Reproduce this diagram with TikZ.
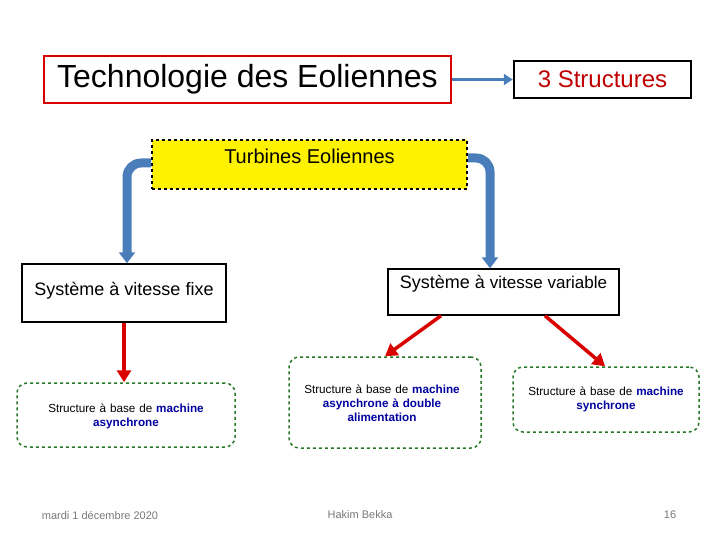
\documentclass[tikz,border=0pt]{standalone}
\usepackage{fontspec}
\setmainfont{Liberation Sans}
\usetikzlibrary{arrows.meta}
\definecolor{bl}{RGB}{74,126,187}
\definecolor{dred}{RGB}{192,0,0}
\definecolor{navy}{RGB}{0,0,160}
\definecolor{grn}{RGB}{40,120,40}
\definecolor{gry}{RGB}{120,120,120}
\begin{document}
\begin{tikzpicture}[x=1pt,y=-1pt,
  sq/.style={draw,line width=2.5pt,inner sep=0pt},
  grbox/.style={draw=grn,dashed,line width=1.5pt,rounded corners=10pt,inner sep=0pt},
  bigarrow/.style={bl,line width=9pt,rounded corners=14pt,-{Triangle[length=11pt,width=16pt]}},
  redarrow/.style={red!85!black,line width=3.5pt,-{Triangle[length=12pt,width=14pt]}},
  small/.style={font=\fontsize{11.7}{14}\selectfont,align=center,text width=190pt},
  foot/.style={gry,font=\fontsize{11}{13}\selectfont}]
\useasboundingbox (0,0) rectangle (720,540);
\node[sq,draw=red!85!black,minimum width=407pt,minimum height=47pt] (t) at (247.5,79.5) {\fontsize{32}{36}\selectfont Technologie des Eoliennes};
\node[sq,minimum width=177pt,minimum height=37pt] (s) at (602.5,79.5) {\fontsize{24}{28}\selectfont\color{dred}3 Structures};
\draw[bl,line width=3pt,-{Triangle[length=9pt,width=11pt]}] (t.east) -- (s.west);
\node[draw,dashed,line width=2pt,fill=yellow,minimum width=315pt,minimum height=49pt] (tu) at (309.5,164.5) {};
\node at (309.5,156) {\fontsize{20}{24}\selectfont Turbines Eoliennes};
\node[draw,line width=1.5pt,minimum width=204pt,minimum height=58pt] (f) at (124,293) {};
\node at (124,291) {\fontsize{18}{22}\selectfont Système à vitesse fixe};
\node[draw,line width=1.5pt,minimum width=231pt,minimum height=46pt] (v) at (503.5,292) {};
\node at (503.5,284) {\fontsize{18}{22}\selectfont Système à {\fontsize{17}{22}\selectfont vitesse variable}};
\draw[bigarrow] (tu.west|-0,163) -- (127,163) -- (f.north-|127,0);
\draw[bigarrow] (tu.east|-0,158) -- (490,158) -- (v.north-|490,0);
\node[grbox,minimum width=218pt,minimum height=64pt] (a) at (126,415) {};
\node[small] at (126,416) {Structure à base de {\color{navy}\bfseries machine\\ asynchrone}};
\node[grbox,minimum width=192pt,minimum height=91pt] (b) at (385,402.5) {};
\node[small] at (382,403) {Structure à base de {\color{navy}\bfseries machine\\ asynchrone à double\\ alimentation}};
\node[grbox,minimum width=186pt,minimum height=65pt] (c) at (606,399.5) {};
\node[small] at (606,399) {Structure à base de {\color{navy}\bfseries machine\\ synchrone}};
\draw[redarrow] (f.south-|124,0) -- (a.north-|124,0);
\draw[redarrow] (v.south-|441,0) -- (b.north-|385,0);
\draw[redarrow] (v.south-|545,0) -- (c.north-|605,0);
\node[foot] (d) at (100,515) {mardi 1 décembre 2020};
\node[foot] (h) at (360,515) {Hakim Bekka};
\node[foot] (n) at (670,515) {16};
\end{tikzpicture}
\end{document}
